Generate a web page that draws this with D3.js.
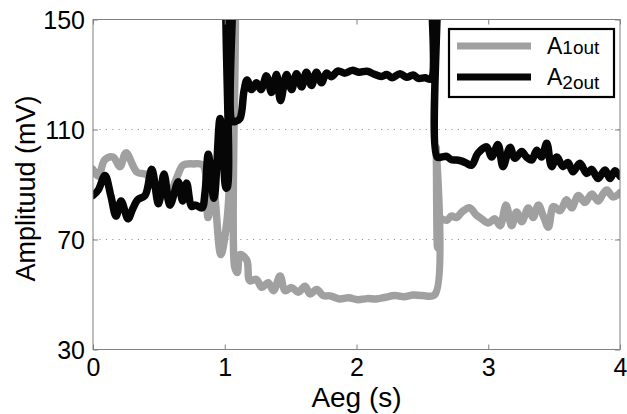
<!DOCTYPE html>
<html>
<head>
<meta charset="utf-8">
<script src="https://cdn.jsdelivr.net/npm/d3@7/dist/d3.min.js"></script>
<style>
  body { margin: 0; background: #fff; }
  svg text { font-family: "Liberation Sans", Arial, Helvetica, sans-serif; fill: #000; }
</style>
</head>
<body>
<svg id="chart" width="627" height="414"></svg>
<script>
// Axis ticks
const xTicks = [0, 1, 2, 3, 4];
const yTicks = [30, 70, 110, 150];
const gridValues = [70, 110];

// A1out (grey trace): time in s, amplitude in mV
const a1Time = [0, 0.04, 0.09, 0.152, 0.205, 0.25, 0.334, 0.41, 0.47, 0.53, 0.584, 0.64, 0.683, 0.76, 0.835,
  0.873, 0.911, 0.97, 1.015, 1.035, 1.045, 1.06, 1.075, 1.095, 1.116, 1.167, 1.19, 1.24, 1.28, 1.33, 1.37, 1.42,
  1.457, 1.508, 1.558, 1.609, 1.647, 1.698, 1.748, 1.8, 1.87, 1.94, 2.01, 2.08, 2.15, 2.22, 2.29,
  2.36, 2.43, 2.5, 2.595, 2.605, 2.615, 2.63, 2.647, 2.685, 2.72, 2.76, 2.8, 2.86, 2.907, 2.95, 3.0,
  3.05, 3.09, 3.135, 3.178, 3.215, 3.254, 3.304, 3.34, 3.38, 3.418, 3.456, 3.494, 3.545, 3.595, 3.633, 3.684,
  3.734, 3.785, 3.835, 3.87, 3.9, 3.947, 4.0];
const a1Values = [95.5, 93, 99, 100, 96.5, 101.5, 94.5, 93.5, 89, 86, 87, 93, 97, 97.5, 97,
  78, 90, 64.5, 76, 90, 175, 175, 60, 58, 64.5, 62.5, 55, 55.5, 52.6, 54.3, 51.4, 56.7,
  51.4, 52.5, 50.8, 53, 50.2, 51.8, 49.6, 49.5, 48.4, 48.8, 48.1, 48.5, 48.4, 49, 49.6,
  49.2, 49.8, 49.6, 50, 103.5, 67, 78, 77.5, 77, 78.5, 78, 80, 81.5, 79, 77.5, 76,
  77.5, 75, 82.5, 75, 80, 76.5, 81.5, 78, 82.5, 78.5, 74.5, 82, 80.5, 84.5, 81.5, 86,
  83.5, 86.5, 84, 86.5, 88, 85.5, 87];

// A2out (black trace): time in s, amplitude in mV
const a2Time = [0, 0.04, 0.091, 0.135, 0.175, 0.213, 0.266, 0.3, 0.34, 0.395, 0.446, 0.497, 0.539, 0.584, 0.647,
  0.68, 0.711, 0.749, 0.78, 0.827, 0.85, 0.875, 0.918, 0.964, 0.99, 1.01, 1.02, 1.028, 1.05, 1.058, 1.085, 1.116,
  1.146, 1.169, 1.203, 1.241, 1.275, 1.317, 1.355, 1.393, 1.423, 1.469, 1.507, 1.545, 1.583, 1.62, 1.658, 1.696,
  1.734, 1.772, 1.81, 1.86, 1.913, 1.966, 2.02, 2.08, 2.13, 2.19, 2.23, 2.27, 2.33, 2.38, 2.43, 2.47, 2.52,
  2.565, 2.575, 2.6, 2.612, 2.647, 2.685, 2.72, 2.76, 2.8, 2.836, 2.874,
  2.922, 2.988, 3.026, 3.074, 3.112, 3.165, 3.203, 3.254, 3.29, 3.33, 3.368, 3.405, 3.444, 3.481, 3.52, 3.567,
  3.605, 3.643, 3.696, 3.747, 3.785, 3.833, 3.886, 3.924, 3.962, 4.0];
const a2Values = [86, 88, 93.3, 86, 78.5, 84, 77.5, 81, 84.5, 86, 95.5, 83, 93.8, 82.5, 91,
  84, 90.5, 82, 82.5, 81.5, 87, 101, 85, 114, 100, 88.7, 89, 175, 175, 113, 113, 114,
  124, 128, 124.5, 127, 124.5, 129.5, 123.5, 130, 120.5, 130, 124.5, 130.3, 125.5, 130.8, 126, 130.8,
  127, 130.5, 129.2, 131.3, 130.5, 131.5, 130.8, 131.2, 130.2, 129.3, 130, 128.8, 130.3, 129, 129.8, 128.6, 128.8,
  128.4, 175, 175, 100, 100, 100.2, 99, 98.9, 98.5, 97.7, 97,
  101.4, 103.7, 100, 104.5, 96.5, 103.5, 99.5, 102, 100, 98.9, 102.5, 100, 105, 96.5, 100, 96.5,
  98, 94.6, 97.7, 94, 95.5, 92.2, 95.3, 92.2, 95, 93];

const seriesLabels = [
  { base: "A", sub: "1out" },
  { base: "A", sub: "2out" }
];
const xLabel = "Aeg (s)";
const yLabel = "Amplituud (mV)";

const svg = d3.select("#chart");
const plot = { left: 93, right: 620, top: 19.5, bottom: 349.5 };

const x = d3.scaleLinear().domain([0, 4]).range([plot.left, plot.right]);
const y = d3.scaleLinear().domain([30, 150]).range([plot.bottom, plot.top]);

const axisColor = "#808080";

// clip region for the traces
svg.append("defs").append("clipPath").attr("id", "plotClip")
  .append("rect")
  .attr("x", plot.left).attr("y", plot.top)
  .attr("width", plot.right - plot.left).attr("height", plot.bottom - plot.top);

// dotted horizontal grid
svg.append("g").selectAll("line").data(gridValues).join("line")
  .attr("x1", plot.left).attr("x2", plot.right)
  .attr("y1", d => y(d)).attr("y2", d => y(d))
  .attr("stroke", "#9a9a9a").attr("stroke-width", 1)
  .attr("stroke-dasharray", "1.2,5.2");

// traces, smoothed through the sampled points
const line = d3.line()
  .x(d => x(d[0]))
  .y(d => y(d[1]))
  .curve(d3.curveCatmullRom.alpha(0.5));

const traces = [
  { t: a1Time, v: a1Values, color: "#a0a0a0" },
  { t: a2Time, v: a2Values, color: "#060606" }
];

const gTraces = svg.append("g").attr("clip-path", "url(#plotClip)");
traces.forEach(s => {
  gTraces.append("path")
    .datum(s.t.map((t, i) => [t, s.v[i]]))
    .attr("d", line)
    .attr("fill", "none")
    .attr("stroke", s.color)
    .attr("stroke-width", 7.5)
    .attr("stroke-linejoin", "round")
    .attr("stroke-linecap", "round");
});

// frame
svg.append("rect")
  .attr("x", plot.left).attr("y", plot.top)
  .attr("width", plot.right - plot.left).attr("height", plot.bottom - plot.top)
  .attr("fill", "none").attr("stroke", axisColor).attr("stroke-width", 1);

// axes with inward ticks
const tickLen = 5;
const fontSize = 25;

const xAxisB = svg.append("g").attr("transform", `translate(0,${plot.bottom})`)
  .call(d3.axisBottom(x).tickValues(xTicks).tickSize(-tickLen).tickPadding(tickLen + 3).tickFormat(d3.format("d")));
const xAxisT = svg.append("g").attr("transform", `translate(0,${plot.top})`)
  .call(d3.axisTop(x).tickValues(xTicks).tickSize(-tickLen).tickFormat(""));
const yAxisL = svg.append("g").attr("transform", `translate(${plot.left},0)`)
  .call(d3.axisLeft(y).tickValues(yTicks).tickSize(-tickLen).tickPadding(tickLen + 3).tickFormat(d3.format("d")));
const yAxisR = svg.append("g").attr("transform", `translate(${plot.right},0)`)
  .call(d3.axisRight(y).tickValues(yTicks).tickSize(-tickLen).tickFormat(""));

[xAxisB, xAxisT, yAxisL, yAxisR].forEach(g => {
  g.select(".domain").remove();
  g.selectAll(".tick line").attr("stroke", axisColor);
  g.selectAll(".tick text")
    .style("font-family", '"Liberation Sans", Arial, sans-serif')
    .style("font-size", fontSize + "px")
    .attr("fill", "#000");
});
xAxisB.selectAll(".tick text").attr("dy", "0.72em");
yAxisL.selectAll(".tick text").attr("dy", "0.35em");

// axis titles
svg.append("text")
  .attr("x", (plot.left + plot.right) / 2)
  .attr("y", 407)
  .attr("text-anchor", "middle")
  .style("font-size", "28px")
  .text(xLabel);

svg.append("text")
  .attr("transform", `translate(35,${(plot.top + plot.bottom) / 2 + 4}) rotate(-90)`)
  .attr("text-anchor", "middle")
  .style("font-size", "27px")
  .text(yLabel);

// legend
const legend = svg.append("g");
legend.append("rect")
  .attr("x", 449).attr("y", 29)
  .attr("width", 165).attr("height", 68)
  .attr("fill", "#fff").attr("stroke", "#000").attr("stroke-width", 2.2);

traces.forEach((s, i) => {
  const ly = 46 + i * 31;
  legend.append("line")
    .attr("x1", 457).attr("x2", 531)
    .attr("y1", ly).attr("y2", ly)
    .attr("stroke", s.color).attr("stroke-width", 7);
  const txt = legend.append("text")
    .attr("x", 547).attr("y", ly + 8)
    .style("font-size", "23px");
  txt.append("tspan").text(seriesLabels[i].base);
  txt.append("tspan")
    .style("font-size", "19px")
    .attr("dy", i === 0 ? 0 : 4)
    .text(seriesLabels[i].sub);
});
</script>
</body>
</html>
